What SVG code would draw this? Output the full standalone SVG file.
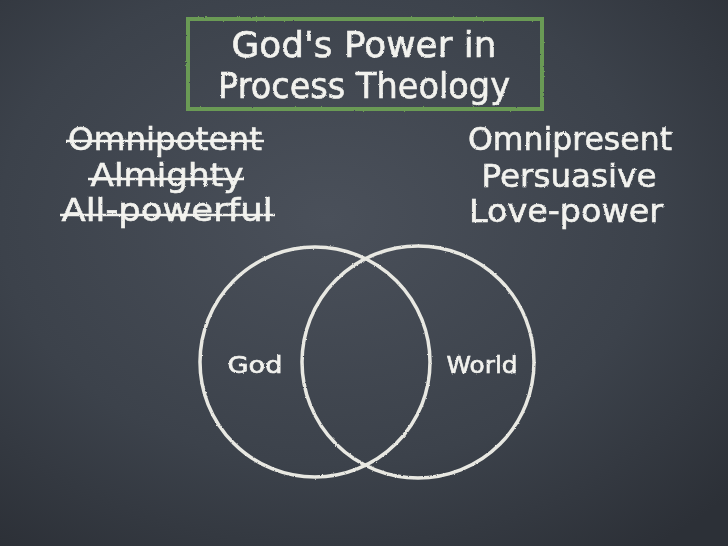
<svg xmlns="http://www.w3.org/2000/svg" width="728" height="546" viewBox="0 0 728 546">
  <defs>
    <radialGradient id="bg" cx="0.45" cy="0.4" r="0.75">
      <stop offset="0" stop-color="#4a505a"/>
      <stop offset="0.6" stop-color="#3c424b"/>
      <stop offset="1" stop-color="#2c3037"/>
    </radialGradient>
    <filter id="chalk" x="-5%" y="-5%" width="110%" height="110%">
      <feTurbulence type="fractalNoise" baseFrequency="0.9" numOctaves="2" seed="3" result="n"/>
      <feDisplacementMap in="SourceGraphic" in2="n" scale="2" xChannelSelector="R" yChannelSelector="G"/>
    </filter>
    <style>
      .t { font-family: "DejaVu Sans", "Liberation Sans", sans-serif; fill: #f2f2ee; stroke: #f2f2ee; stroke-width: 0.6; }
      .title { font-size: 35px; }
      .side { font-size: 32px; }
      .lbl { font-size: 23px; }
      .strike { stroke: #f2f2ee; stroke-width: 2.5; }
      .circ { fill: none; stroke: #e8e8e2; stroke-width: 3.5; }
    </style>
  </defs>
  <rect width="728" height="546" fill="url(#bg)"/>

  <g id="title" filter="url(#chalk)">
    <rect x="188" y="19" width="354" height="90" fill="none" stroke="#6b9a55" stroke-width="4"/>
    <text class="t title" x="364" y="57" text-anchor="middle" textLength="265" lengthAdjust="spacingAndGlyphs">God's Power in</text>
    <text class="t title" x="364" y="98" text-anchor="middle" textLength="292" lengthAdjust="spacingAndGlyphs">Process Theology</text>
  </g>

  <g id="classical" filter="url(#chalk)">
    <text class="t side" x="165" y="150" text-anchor="middle" textLength="194" lengthAdjust="spacingAndGlyphs">Omnipotent</text>
    <line class="strike" x1="66" y1="141" x2="264" y2="141"/>
    <text class="t side" x="167" y="186" text-anchor="middle" textLength="153" lengthAdjust="spacingAndGlyphs">Almighty</text>
    <line class="strike" x1="88" y1="179" x2="244" y2="179"/>
    <text class="t side" x="167" y="221" text-anchor="middle" textLength="211" lengthAdjust="spacingAndGlyphs">All-powerful</text>
    <line class="strike" x1="60" y1="215" x2="275" y2="215"/>
  </g>

  <g id="process" filter="url(#chalk)">
    <text class="t side" x="570" y="150" text-anchor="middle" textLength="204" lengthAdjust="spacingAndGlyphs">Omnipresent</text>
    <text class="t side" x="569" y="187" text-anchor="middle" textLength="175" lengthAdjust="spacingAndGlyphs">Persuasive</text>
    <text class="t side" x="566" y="222" text-anchor="middle" textLength="194" lengthAdjust="spacingAndGlyphs">Love-power</text>
  </g>

  <g id="god" filter="url(#chalk)">
    <circle class="circ" cx="315" cy="362" r="115"/>
    <text class="t lbl" x="255" y="373" text-anchor="middle" textLength="55" lengthAdjust="spacingAndGlyphs">God</text>
  </g>

  <g id="world" filter="url(#chalk)">
    <circle class="circ" cx="418" cy="362" r="116"/>
    <text class="t lbl" x="482" y="373" text-anchor="middle" textLength="71" lengthAdjust="spacingAndGlyphs">World</text>
  </g>

  <g id="connectors"/>
</svg>
